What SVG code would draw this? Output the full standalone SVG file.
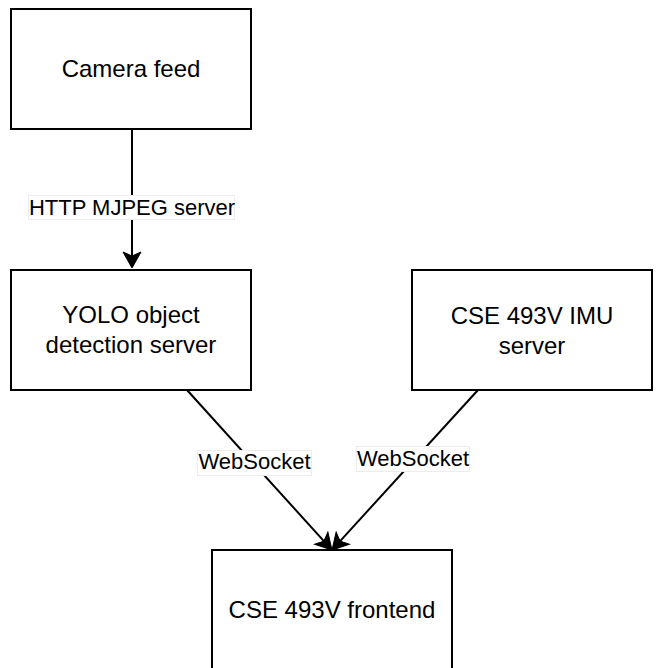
<svg xmlns="http://www.w3.org/2000/svg" width="656" height="668" viewBox="0 0 656 668">
<style>
.box{fill:#fff;stroke:#000;stroke-width:2}
.t{font-family:"Liberation Sans",Arial,sans-serif;font-size:24px;fill:#000;text-anchor:middle}
.lt{font-family:"Liberation Sans",Arial,sans-serif;font-size:22px;fill:#000;text-anchor:middle}
.lb{fill:#fff;stroke:#ececec;stroke-width:1}
.edge{fill:none;stroke:#000;stroke-width:2}
</style>
<defs>
<marker id="arr" markerUnits="userSpaceOnUse" markerWidth="20" markerHeight="20" viewBox="-5 -10 20 20" refX="0" refY="0" orient="auto">
<path d="M12,0 L-4,-9 L0,0 L-4,9 Z" fill="#000" stroke="#000" stroke-width="1"/>
</marker>
</defs>
<rect width="656" height="668" fill="#fff"/>
<g id="connectors">
<path class="edge" d="M132,129 L132,256" marker-end="url(#arr)"/>
<path class="edge" d="M187,390 L323.9,541.1" marker-end="url(#arr)"/>
<path class="edge" d="M478,390 L340.1,541.1" marker-end="url(#arr)"/>
<g id="label-http">
<rect class="lb" x="28.5" y="195.5" width="206" height="24"/>
<text class="lt" x="132" y="215">HTTP MJPEG server</text>
</g>
<g id="label-ws1">
<rect class="lb" x="197.5" y="450.5" width="114" height="25"/>
<text class="lt" x="254.5" y="469">WebSocket</text>
</g>
<g id="label-ws2">
<rect class="lb" x="356.5" y="446.5" width="113" height="25"/>
<text class="lt" x="413" y="465.5">WebSocket</text>
</g>
</g>
<g id="camera">
<rect class="box" x="11" y="9" width="240" height="120"/>
<text class="t" x="131" y="77">Camera feed</text>
</g>
<g id="yolo">
<rect class="box" x="11" y="270" width="240" height="120"/>
<text class="t" x="131" y="323">YOLO object</text>
<text class="t" x="131" y="353">detection server</text>
</g>
<g id="imu">
<rect class="box" x="412" y="270" width="240" height="120"/>
<text class="t" x="532" y="324">CSE 493V IMU</text>
<text class="t" x="532" y="354">server</text>
</g>
<g id="frontend">
<rect class="box" x="212" y="550" width="240" height="120"/>
<text class="t" x="332" y="618">CSE 493V frontend</text>
</g>
</svg>
